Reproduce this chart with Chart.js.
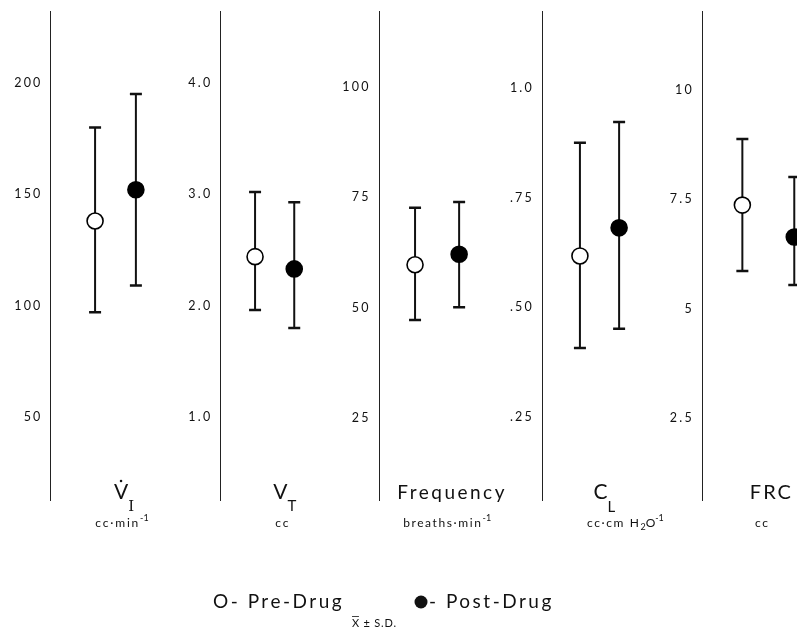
<!DOCTYPE html>
<html>
<head>
<meta charset="utf-8">
<script src="https://cdn.jsdelivr.net/npm/chart.js@4.4.1/dist/chart.umd.min.js"></script>
<style>
  html, body { margin: 0; padding: 0; background: #fff; }
</style>
</head>
<body>
<canvas id="chart" width="797" height="634"></canvas>
<script>
// Dados (média e limites de ± S.D.)
const measures = ['V_I', 'V_T', 'Frequency', 'C_L', 'FRC'];
const preMean = [138, 2.44, 59.7, 0.617, 7.37];
const preLow = [97, 1.96, 47.2, 0.407, 5.86];
const preHigh = [180, 3.02, 72.6, 0.875, 8.88];
const postMean = [152, 2.33, 62.1, 0.681, 6.64];
const postLow = [109, 1.80, 50.1, 0.451, 5.54];
const postHigh = [195, 2.93, 73.9, 0.922, 8.01];

// Marcas de cada eixo
const tickValues = [
  [50, 100, 150, 200],
  [1, 2, 3, 4],
  [25, 50, 75, 100],
  [0.25, 0.5, 0.75, 1],
  [2.5, 5, 7.5, 10]
];
const tickLabels = [
  ['50', '100', '150', '200'],
  ['1.0', '2.0', '3.0', '4.0'],
  ['25', '50', '75', '100'],
  ['.25', '.50', '.75', '1.0'],
  ['2.5', '5', '7.5', '10']
];
const yMin = [12.7, 0.254, 6.4, 0.061, 0.624];
const yMax = [232.3, 4.647, 117.2, 1.175, 11.81];

// Layout dos painéis (em unidades do eixo x)
const axisPos = [0, 1.04, 2.01, 3.01, 3.99];
const preOffset = [0.27, 0.21, 0.22, 0.23, 0.245];
const postOffset = [0.52, 0.45, 0.49, 0.47, 0.563];

const FONT = 'Lato, "Open Sans", sans-serif';
const INK = '#111';

const datasets = measures.map((m, i) => ({
  label: m,
  yAxisID: 'y' + i,
  data: [
    { x: axisPos[i] + preOffset[i], y: preMean[i] },
    { x: axisPos[i] + postOffset[i], y: postMean[i] }
  ],
  pointRadius: 8,
  pointHoverRadius: 8,
  pointBackgroundColor: ['#ffffff', '#000000'],
  pointBorderColor: '#000',
  pointBorderWidth: 1.6,
  showLine: false
}));

const scales = {
  x: { type: 'linear', min: -0.3124, max: 4.5697, display: false }
};
measures.forEach((m, i) => {
  scales['y' + i] = {
    type: 'linear',
    position: { x: axisPos[i] },
    min: yMin[i],
    max: yMax[i],
    grid: { display: false, drawTicks: false },
    border: { display: true, color: '#222', width: 1 },
    afterBuildTicks: (scale) => {
      scale.ticks = tickValues[i].map(v => ({ value: v }));
    },
    ticks: {
      color: INK,
      font: { family: FONT, size: 12.5 },
      // espaço à direita para afastar o rótulo da linha do eixo
      callback: (value, index) => tickLabels[i][index] + '\u2002'
    }
  };
});

// Barras de erro
const errorBars = {
  id: 'errorBars',
  beforeDatasetsDraw(chart) {
    const ctx = chart.ctx;
    ctx.save();
    ctx.strokeStyle = INK;
    measures.forEach((m, i) => {
      const y = chart.scales['y' + i];
      const pts = chart.getDatasetMeta(i).data;
      [[preLow[i], preHigh[i]], [postLow[i], postHigh[i]]].forEach(([lo, hi], j) => {
        const px = pts[j].x;
        const top = y.getPixelForValue(hi);
        const bot = y.getPixelForValue(lo);
        ctx.lineWidth = 2;
        ctx.beginPath();
        ctx.moveTo(px, top);
        ctx.lineTo(px, bot);
        ctx.stroke();
        ctx.lineWidth = 2.5;
        ctx.beginPath();
        ctx.moveTo(px - 6, top); ctx.lineTo(px + 6, top);
        ctx.moveTo(px - 6, bot); ctx.lineTo(px + 6, bot);
        ctx.stroke();
      });
    });
    ctx.restore();
  }
};

// Desenha trechos de texto (subscrito / sobrescrito) centrados em cx
function drawRuns(ctx, runs, cx, base) {
  let total = 0;
  runs.forEach(r => {
    ctx.font = (r.font || (r.size + 'px ' + FONT));
    ctx.letterSpacing = (r.ls || 0) + 'px';
    r.w = ctx.measureText(r.t).width;
    total += r.w;
  });
  let x = cx - total / 2;
  runs.forEach(r => {
    ctx.font = (r.font || (r.size + 'px ' + FONT));
    ctx.letterSpacing = (r.ls || 0) + 'px';
    ctx.fillText(r.t, x, base + (r.dy || 0));
    r.x = x;
    x += r.w;
  });
  return runs;
}

const labelDx = [73, 64, 73, 62, 69];
const unitDx = [71, 62, 68, 83, 60];
const names = [
  [{ t: 'V', size: 21 }, { t: 'I', font: '15px "DejaVu Serif"', dy: 12 }],
  [{ t: 'V', size: 21 }, { t: 'T', size: 15, dy: 12 }],
  [{ t: 'Frequency', size: 19, ls: 2.5 }],
  [{ t: 'C', size: 21 }, { t: 'L', size: 15, dy: 13 }],
  [{ t: 'FRC', size: 20, ls: 2 }]
];
const units = [
  [{ t: 'cc·min', size: 12, ls: 1.8 }, { t: '-1', size: 9, dy: -6 }],
  [{ t: 'cc', size: 12, ls: 1.8 }],
  [{ t: 'breaths·min', size: 12, ls: 1.6 }, { t: '-1', size: 9, dy: -6 }],
  [{ t: 'cc·cm H', size: 12, ls: 1.6 }, { t: '2', size: 9, dy: 3 }, { t: 'O', size: 12 }, { t: '-1', size: 9, dy: -6 }],
  [{ t: 'cc', size: 12, ls: 1.8 }]
];

const texts = {
  id: 'texts',
  afterDraw(chart) {
    const ctx = chart.ctx;
    const x = chart.scales.x;
    ctx.save();
    ctx.fillStyle = INK;
    ctx.strokeStyle = INK;
    ctx.textBaseline = 'alphabetic';
    ctx.textAlign = 'left';
    measures.forEach((m, i) => {
      const ax = x.getPixelForValue(axisPos[i]);
      const r = drawRuns(ctx, names[i], ax + labelDx[i], 499);
      if (i === 0) {
        ctx.beginPath();
        ctx.arc(r[0].x + r[0].w / 2, 481, 1.3, 0, Math.PI * 2);
        ctx.fill();
      }
      drawRuns(ctx, units[i], ax + unitDx[i], 527);
    });

    // Legenda
    ctx.letterSpacing = '2.5px';
    ctx.font = '19px ' + FONT;
    ctx.fillText('O- Pre-Drug', 213, 608);
    ctx.beginPath();
    ctx.arc(421, 602, 6.5, 0, Math.PI * 2);
    ctx.fill();
    ctx.fillText('- Post-Drug', 429, 608);
    ctx.letterSpacing = '0.8px';
    ctx.font = '11px ' + FONT;
    ctx.fillText('X ± S.D.', 352, 627);
    const xw = ctx.measureText('X').width;
    ctx.lineWidth = 0.8;
    ctx.beginPath();
    ctx.moveTo(352, 616.5);
    ctx.lineTo(352 + xw - 1, 616.5);
    ctx.stroke();
    ctx.restore();
  }
};

const tickSpacing = {
  id: 'tickSpacing',
  beforeDraw(chart) {
    chart.ctx.letterSpacing = '2.2px';
  }
};

const chart = new Chart(document.getElementById('chart'), {
  type: 'scatter',
  data: { datasets: datasets },
  options: {
    responsive: false,
    animation: false,
    layout: { autoPadding: false, padding: { top: 11, bottom: 134, left: 0, right: 0 } },
    scales: scales,
    plugins: {
      legend: { display: false },
      tooltip: { enabled: false }
    }
  },
  plugins: [tickSpacing, errorBars, texts]
});
</script>
</body>
</html>
